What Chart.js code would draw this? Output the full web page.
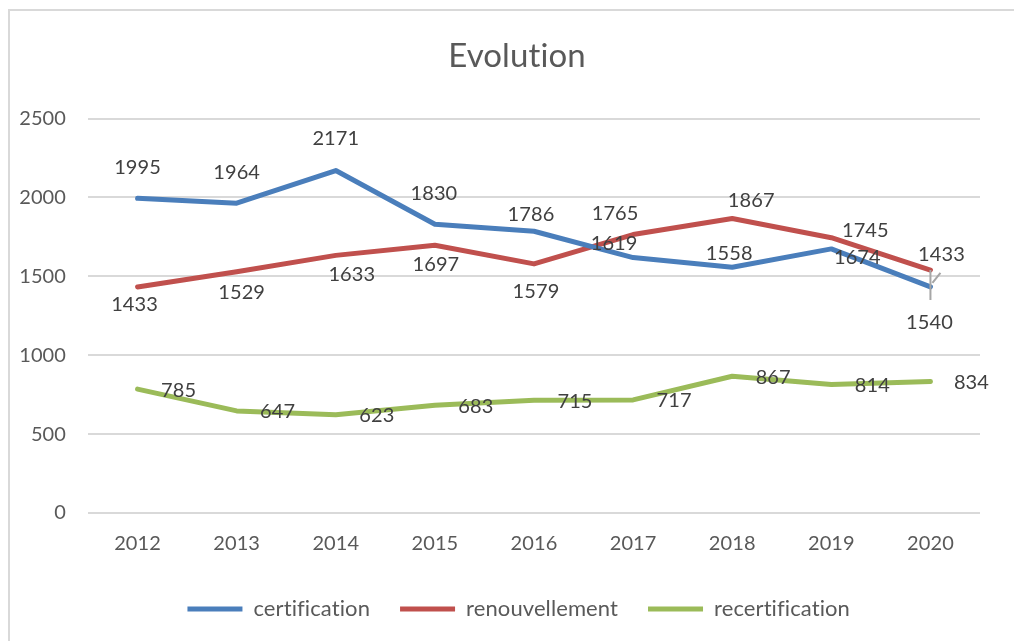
<!DOCTYPE html>
<html>
<head>
<meta charset="utf-8">
<title>Evolution</title>
<script src="https://cdn.jsdelivr.net/npm/chart.js@4"></script>
<style>
  body { margin: 0; background: #fff; }
</style>
</head>
<body>
<canvas id="myChart" width="1014" height="641"></canvas>
<script>
const years = ['2012', '2013', '2014', '2015', '2016', '2017', '2018', '2019', '2020'];
const certification = [1995, 1964, 2171, 1830, 1786, 1619, 1558, 1674, 1433];
const renouvellement = [1433, 1529, 1633, 1697, 1579, 1765, 1867, 1745, 1540];
const recertification = [785, 647, 623, 683, 715, 717, 867, 814, 834];

// where each value label sits relative to its point (Excel moved some by hand)
const labelOffsets = [
    [[0, -31], [0, -31], [0, -32], [-1, -31], [-3, -17], [-19, -14], [-3, -14], [26, 9], [11, -32]],
    [[-3, 18], [5, 21], [16, 19], [1, 19], [2, 28], [-18, -21], [19, -18], [34, -7], [-1, 52]],
    [[41, 1], [41, 1], [41, 1], [41, 1], [41, 1], [41, 1], [41, 1], [41, 1], [41, 1]]
];

const FONT = 'Lato';

const frame = {
    id: 'frame',
    beforeDraw(chart) {
        const c = chart.ctx;
        // no "ti" ligatures, calibri doesn't have them
        c.textRendering = 'optimizeSpeed';
        c.letterSpacing = '0.1px';
        c.save();
        c.fillStyle = '#fff';
        c.fillRect(0, 0, chart.width, chart.height);
        c.strokeStyle = '#d9d9d9';
        c.lineWidth = 2;
        c.beginPath();
        c.moveTo(9, chart.height);
        c.lineTo(9, 10);
        c.lineTo(chart.width, 10);
        c.stroke();
        c.restore();
    }
};

const valueLabels = {
    id: 'valueLabels',
    afterDatasetsDraw(chart) {
        const c = chart.ctx;
        c.save();
        // leader lines for the two 2020 labels
        const red = chart.getDatasetMeta(1).data[8];
        const blue = chart.getDatasetMeta(0).data[8];
        c.strokeStyle = '#a6a6a6';
        c.lineWidth = 2;
        c.beginPath();
        c.moveTo(red.x, red.y);
        c.lineTo(red.x, red.y + 30);
        c.moveTo(blue.x + 2, blue.y - 4);
        c.lineTo(blue.x + 10, blue.y - 14);
        c.stroke();

        c.font = '20px ' + FONT;
        c.fillStyle = '#404040';
        c.textAlign = 'center';
        c.textBaseline = 'middle';
        chart.data.datasets.forEach((ds, i) => {
            chart.getDatasetMeta(i).data.forEach((pt, j) => {
                const off = labelOffsets[i][j];
                c.fillText(String(ds.data[j]), pt.x + off[0], pt.y + off[1]);
            });
        });
        c.restore();
    }
};

const ctx = document.getElementById('myChart').getContext('2d');

const lineStyle = { borderWidth: 5, borderCapStyle: 'round', borderJoinStyle: 'round', pointStyle: 'line' };

const myChart = new Chart(ctx, {
    type: 'line',
    data: {
        labels: years,
        datasets: [
            Object.assign({
                label: 'certification',
                data: certification,
                borderColor: '#4a7ebb',
                backgroundColor: '#4a7ebb'
            }, lineStyle),
            Object.assign({
                label: 'renouvellement',
                data: renouvellement,
                borderColor: '#c0504d',
                backgroundColor: '#c0504d'
            }, lineStyle),
            Object.assign({
                label: 'recertification',
                data: recertification,
                borderColor: '#9bbb59',
                backgroundColor: '#9bbb59'
            }, lineStyle)
        ]
    },
    options: {
        responsive: false,
        animation: false,
        layout: { padding: { top: 0, right: 0, bottom: 11, left: 20 } },
        elements: {
            line: { tension: 0 },
            point: { radius: 0, hoverRadius: 0 }
        },
        plugins: {
            title: {
                display: true,
                text: 'Evolution',
                color: '#595959',
                font: { family: FONT, size: 33, weight: 'normal' },
                padding: { top: 37, bottom: 42 }
            },
            legend: {
                position: 'bottom',
                labels: {
                    usePointStyle: true,
                    pointStyleWidth: 55,
                    color: '#595959',
                    font: { family: FONT, size: 22 },
                    padding: 30
                }
            },
            tooltip: { enabled: false }
        },
        scales: {
            x: {
                offset: true,
                grid: { display: false },
                border: { display: false },
                ticks: { color: '#595959', font: { family: FONT, size: 20 }, padding: 11 },
                afterFit(scale) { scale.height = 55; }
            },
            y: {
                min: 0,
                max: 2500,
                grid: { color: '#d9d9d9', lineWidth: 2, drawTicks: false },
                border: { display: false },
                ticks: {
                    stepSize: 500,
                    color: '#595959',
                    font: { family: FONT, size: 20 },
                    padding: 22,
                    callback: (v) => String(v)
                },
                afterFit(scale) { scale.width = 68; }
            },
            // empty right margin so the title and legend centre like Excel's
            yRight: {
                position: 'right',
                grid: { display: false },
                border: { display: false },
                ticks: { display: false },
                afterFit(scale) { scale.width = 34; }
            }
        }
    },
    plugins: [frame, valueLabels]
});
</script>
</body>
</html>
